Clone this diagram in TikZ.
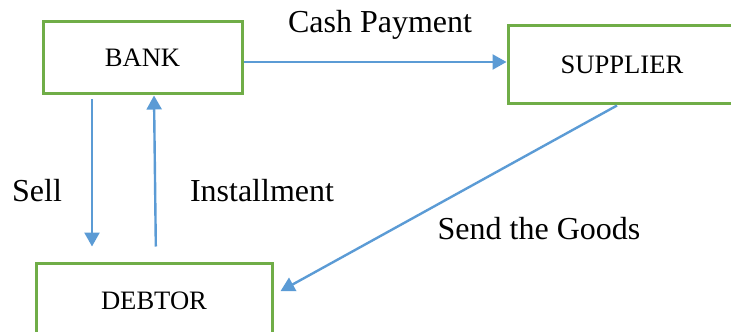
\documentclass[tikz,border=0pt]{standalone}
\usepackage{fontspec}
\setmainfont{Liberation Serif}
\usepackage{tikz}
\usetikzlibrary{arrows.meta}
\usetikzlibrary{positioning}

\definecolor{boxgreen}{HTML}{70AD47}
\definecolor{flowblue}{HTML}{5B9BD5}

\tikzset{
    party/.style={draw=boxgreen, line width=1.5pt, fill=white, rectangle,
                  font=\fontsize{13.3}{15}\selectfont, inner sep=0pt},
    flow/.style={draw=flowblue, line width=1.2pt, -{Triangle[length=7pt,width=7.5pt]}},
    lbl/.style={font=\fontsize{16}{19}\selectfont, inner sep=0pt}
}

\begin{document}
\begin{tikzpicture}[x=0.5pt, y=-0.5pt]
        \clip (0,0) rectangle (731,331);

        % Parties
        \node[party, minimum width=99.5pt, minimum height=36pt] (bank) at (142.5,58) {BANK};
        \node[party, minimum width=114pt, minimum height=39pt] (supplier) at (622,65) {SUPPLIER};
        \node[party, minimum width=118pt, minimum height=37.5pt] (debtor) at (154,300.5) {DEBTOR};

        % Flows
        \draw[flow] (bank.east |- 0,62) -- (supplier.west |- 0,62);
        \draw[flow, shorten <=2pt, shorten >=7.5pt] (bank.south -| 92,0) -- (debtor.north -| 92,0);
        \draw[flow, shorten <=7.5pt] (debtor.north -| 156,0) -- (bank.south -| 154,0);
        \draw[flow, shorten >=4pt] (supplier.south -| 617,0) -- (debtor.east |- 0,295);

        % Labels
        \node[lbl] (cash) at (380,25) {Cash Payment};
        \node[lbl] (sell) at (37,191) {Sell};
        \node[lbl] (inst) at (262,191) {Installment};
        \node[lbl] (goods) at (539,229) {Send the Goods};
\end{tikzpicture}
\end{document}
